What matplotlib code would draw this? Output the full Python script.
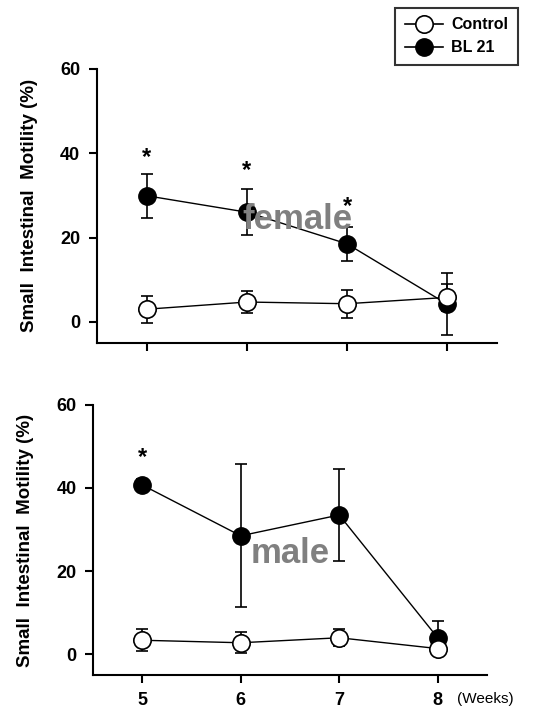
import matplotlib
matplotlib.use('Agg')
import matplotlib.pyplot as plt
from matplotlib.lines import Line2D

plt.rcParams['font.family'] = ['Liberation Sans', 'DejaVu Sans']

# weeks on x axis
weeks = [5, 6, 7, 8]
week_labels = ['5', '6', '7', '8']

# female panel
female_ctrl = [3.0, 4.7, 4.3, 5.8]
female_ctrl_err = [3.2, 2.6, 3.3, 3.2]
female_bl21 = [29.9, 26.0, 18.5, 4.2]
female_bl21_err = [5.2, 5.4, 4.0, 7.3]
female_star_x = [5, 6, 7]
female_star_y = [39.0, 35.8, 27.3]

# male panel
male_ctrl = [3.4, 2.8, 4.0, 1.4]
male_ctrl_err = [2.6, 2.5, 2.1, 1.2]
male_bl21 = [40.7, 28.5, 33.5, 4.0]
male_bl21_err = [1.5, 17.2, 11.1, 4.0]
male_star_x = [5]
male_star_y = [47.2]

fig = plt.figure(figsize=(5.41, 7.10), dpi=100)
ax1 = fig.add_axes([0.179, 0.517, 0.740, 0.386])
ax2 = fig.add_axes([0.172, 0.049, 0.728, 0.381])


def draw_panel(ax, ctrl, ctrl_err, bl, bl_err, sx, sy, label, show_x):
    ax.errorbar(weeks, bl, yerr=bl_err, color='black', lw=1, marker='o', ms=12.5,
                mfc='black', mec='black', capsize=4.5, elinewidth=1.2, capthick=1.2,
                zorder=3)
    ax.errorbar(weeks, ctrl, yerr=ctrl_err, color='black', lw=1, marker='o', ms=12.5,
                mfc='white', mec='black', mew=1.2, capsize=4.5, elinewidth=1.2,
                capthick=1.2, zorder=4)
    for x, y in zip(sx, sy):
        ax.text(x, y, '*', ha='center', va='center', fontsize=17, fontweight='bold')
    ax.text(6.5, 24.3, label, ha='center', va='center', fontsize=25,
            fontweight='bold', color='#808080', zorder=5)
    ax.set_xlim(4.5, 8.5)
    ax.set_ylim(-5, 60)
    ax.set_yticks([0, 20, 40, 60])
    ax.set_xticks(weeks)
    if show_x:
        ax.set_xticklabels(week_labels)
    else:
        ax.set_xticklabels([])
    ax.spines['top'].set_visible(False)
    ax.spines['right'].set_visible(False)
    ax.spines['left'].set_linewidth(1.5)
    ax.spines['bottom'].set_linewidth(1.5)
    ax.tick_params(direction='out', length=6, width=1.5, labelsize=13, pad=6)
    for t in ax.get_xticklabels() + ax.get_yticklabels():
        t.set_fontweight('bold')
    ax.set_ylabel('Small  Intestinal  Motility (%)', fontsize=13.5, fontweight='bold',
                  labelpad=16)


draw_panel(ax1, female_ctrl, female_ctrl_err, female_bl21, female_bl21_err,
           female_star_x, female_star_y, 'female', False)
draw_panel(ax2, male_ctrl, male_ctrl_err, male_bl21, male_bl21_err,
           male_star_x, male_star_y, 'male', True)

ax2.text(8.2, -10.6, '(Weeks)', fontsize=11, ha='left', va='center')

# legend handles: line + marker only, no error caps
handles = [
    Line2D([], [], color='black', lw=1.2, marker='o', ms=12.5, mfc='white',
           mec='black', mew=1.2),
    Line2D([], [], color='black', lw=1.2, marker='o', ms=12.5, mfc='black',
           mec='black'),
]
labels = ['Control', 'BL 21']
leg = fig.legend(handles, labels, loc='upper left', bbox_to_anchor=(0.731, 0.989),
                 frameon=True, fancybox=False, edgecolor='black', handlelength=2.4,
                 borderpad=0.6, labelspacing=0.5, handletextpad=0.5,
                 borderaxespad=0, prop={'weight': 'bold', 'size': 11.5})
leg.get_frame().set_linewidth(1.5)

fig.savefig('out.png', dpi=100)
